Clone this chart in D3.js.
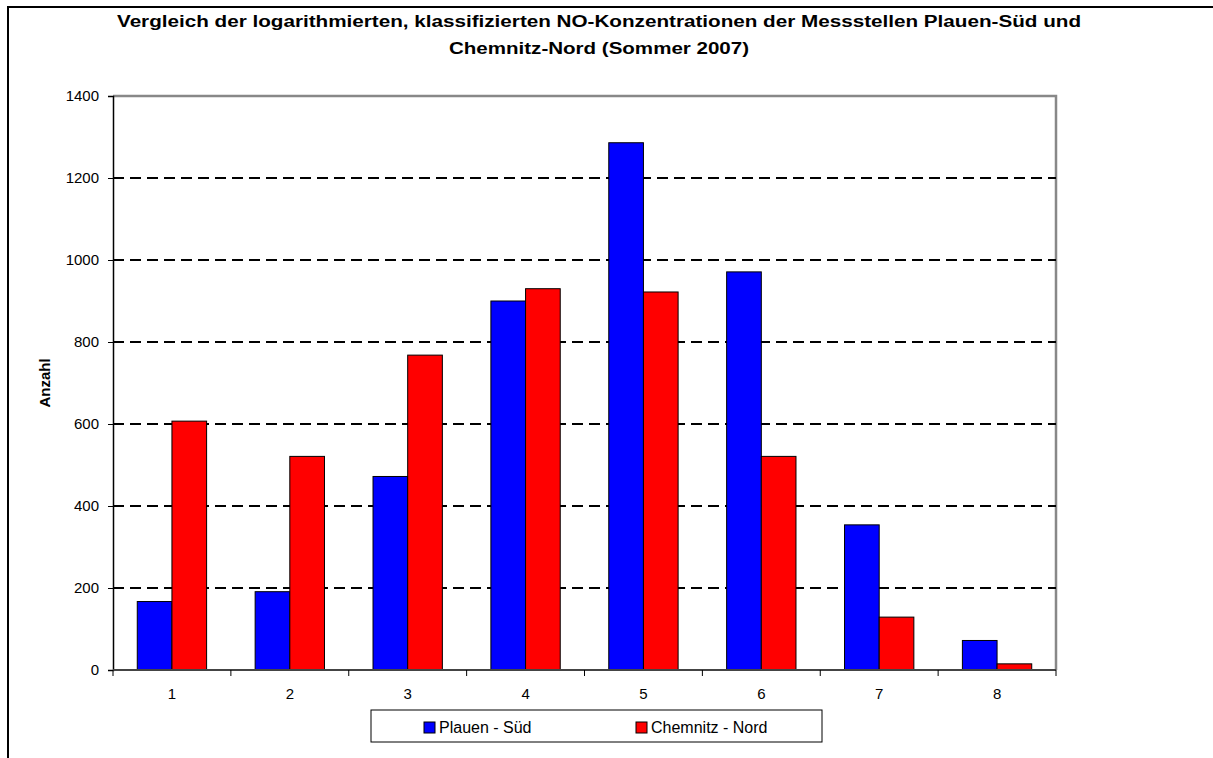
<!DOCTYPE html>
<html>
<head>
<meta charset="utf-8">
<script src="https://cdn.jsdelivr.net/npm/d3@7"></script>
<style>
  body { margin: 0; background: #fff; }
  text { font-family: Arial, "Liberation Sans", sans-serif; }
</style>
</head>
<body>
<svg width="1213" height="758"></svg>
<script>
// classes 1..8, counts per station
let classes = ["1","2","3","4","5","6","7","8"]
let plauen = [167, 191, 472, 900, 1286, 971, 354, 72]
let chemnitz = [607, 521, 768, 930, 922, 521, 129, 15]
let yTicks = [0, 200, 400, 600, 800, 1000, 1200, 1400]
let seriesNames = ["Plauen - Süd", "Chemnitz - Nord"]
let colors = ["#0000ff", "#ff0000"]

let svg = d3.select("svg");

// outer frame
svg.append("rect")
   .attr("x", 8).attr("y", 7)
   .attr("width", 1300).attr("height", 900)
   .attr("fill", "none").attr("stroke", "#000").attr("stroke-width", 2);

let pLeft = 113, pRight = 1056, pTop = 96, pBottom = 670;

let x = d3.scaleBand().domain(classes).range([pLeft, pRight]);
let xInner = d3.scaleBand().domain([0, 1]).range([0, x.bandwidth()]).paddingOuter(0.7);
let y = d3.scaleLinear().domain([0, 1400]).range([pBottom, pTop]);

// title (stretched wide like the original)
let title = svg.append("g").attr("font-size", 16).attr("font-weight", "bold");
title.append("text").attr("x", 117).attr("y", 27)
   .attr("textLength", 964).attr("lengthAdjust", "spacingAndGlyphs")
   .text("Vergleich der logarithmierten, klassifizierten NO-Konzentrationen der Messstellen Plauen-Süd und");
title.append("text").attr("x", 449).attr("y", 54)
   .attr("textLength", 300).attr("lengthAdjust", "spacingAndGlyphs")
   .text("Chemnitz-Nord (Sommer 2007)");

// plot frame (gray top/right)
svg.append("path")
   .attr("d", `M${pLeft},${pTop}H${pRight}V${pBottom}`)
   .attr("fill", "none").attr("stroke", "#888").attr("stroke-width", 2.5);

// dashed gridlines
svg.append("g").selectAll("line")
   .data(yTicks.filter(d => d > 0 && d < 1400))
   .enter().append("line")
   .attr("x1", pLeft).attr("x2", pRight)
   .attr("y1", d => y(d)).attr("y2", d => y(d))
   .attr("stroke", "#000").attr("stroke-width", 2)
   .attr("stroke-dasharray", "11,6");

// bars
let groups = svg.append("g").selectAll("g")
   .data(classes)
   .enter().append("g")
   .attr("transform", d => "translate(" + x(d) + ",0)");

groups.selectAll("rect")
   .data((d, i) => [plauen[i], chemnitz[i]])
   .enter().append("rect")
   .attr("x", (d, i) => xInner(i))
   .attr("width", xInner.bandwidth())
   .attr("y", d => y(d))
   .attr("height", d => pBottom - y(d))
   .attr("fill", (d, i) => colors[i])
   .attr("stroke", "#000").attr("stroke-width", 1);

// y axis
let yAxis = svg.append("g")
   .attr("transform", "translate(" + pLeft + ",0)")
   .call(d3.axisLeft(y).tickValues(yTicks).tickFormat(d3.format("d")).tickSize(5).tickPadding(9));
yAxis.select(".domain").attr("stroke", "#000").attr("stroke-width", 1.5);
yAxis.attr("font-size", 15).attr("font-family", null);
yAxis.selectAll("text").attr("fill", "#000");

// x axis: ticks at category boundaries
let xAxis = svg.append("g")
   .attr("transform", "translate(0," + pBottom + ")");
xAxis.append("line").attr("x1", pLeft).attr("x2", pRight)
   .attr("stroke", "#444").attr("stroke-width", 2);
xAxis.selectAll(".tk")
   .data(classes.concat(["end"]))
   .enter().append("line")
   .attr("x1", (d, i) => pLeft + i * x.step())
   .attr("x2", (d, i) => pLeft + i * x.step())
   .attr("y1", 0).attr("y2", 6)
   .attr("stroke", "#000");
xAxis.selectAll("text")
   .data(classes)
   .enter().append("text")
   .attr("x", d => x(d) + x.bandwidth() / 2)
   .attr("y", 29)
   .attr("text-anchor", "middle")
   .attr("font-size", 15)
   .text(d => d);

// y label
svg.append("text")
   .attr("transform", "translate(50," + ((pTop + pBottom) / 2) + ") rotate(-90)")
   .attr("text-anchor", "middle")
   .attr("font-size", 15).attr("font-weight", "bold")
   .text("Anzahl");

// legend
let legend = svg.append("g");
legend.append("rect")
   .attr("x", 371).attr("y", 710).attr("width", 451).attr("height", 32)
   .attr("fill", "#fff").attr("stroke", "#000").attr("stroke-width", 1);
let legX = [424, 636];
seriesNames.forEach(function(name, i){
   legend.append("rect")
      .attr("x", legX[i]).attr("y", 722).attr("width", 11).attr("height", 11)
      .attr("fill", colors[i]).attr("stroke", "#000");
   legend.append("text")
      .attr("x", legX[i] + 15).attr("y", 733)
      .attr("font-size", 16)
      .text(name);
});
</script>
</body>
</html>
